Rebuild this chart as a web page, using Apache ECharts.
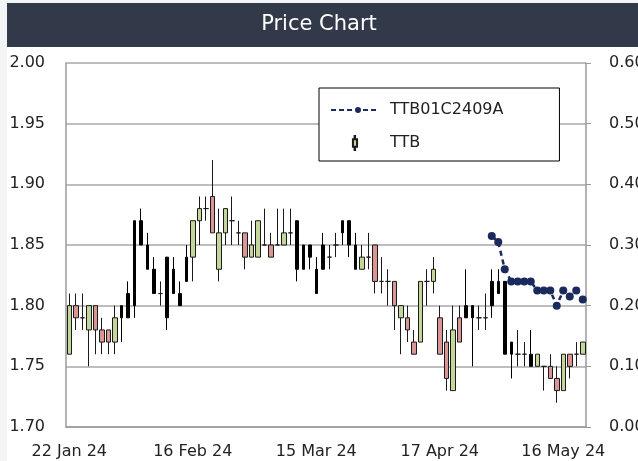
<!DOCTYPE html>
<html>
<head>
<meta charset="utf-8">
<title>Price Chart</title>
<script src="https://cdn.jsdelivr.net/npm/echarts@6/dist/echarts.min.js"></script>
<style>
    html, body { margin: 0; padding: 0; background: #f3f4f6; }
    #card { position: absolute; left: 7px; top: 3px; width: 631px; height: 458px; background: #fff; }
    #bar { position: absolute; left: 7px; top: 3px; width: 631px; height: 44px; background: #323a4a; }
    #chart { position: absolute; left: 0; top: 0; width: 638px; height: 461px; }
</style>
</head>
<body>
<div id="card"></div>
<div id="bar"></div>
<div id="chart"></div>
<script>
(function () {

    // 交易日
    var tradeDates = [
        '22 Jan 24', '23 Jan 24', '24 Jan 24', '25 Jan 24', '26 Jan 24',
        '29 Jan 24', '30 Jan 24', '31 Jan 24', '1 Feb 24', '2 Feb 24',
        '5 Feb 24', '6 Feb 24', '7 Feb 24', '8 Feb 24', '9 Feb 24',
        '12 Feb 24', '13 Feb 24', '14 Feb 24', '15 Feb 24', '16 Feb 24',
        '19 Feb 24', '20 Feb 24', '21 Feb 24', '22 Feb 24', '23 Feb 24',
        '27 Feb 24', '28 Feb 24', '29 Feb 24', '1 Mar 24',
        '4 Mar 24', '5 Mar 24', '6 Mar 24', '7 Mar 24', '8 Mar 24',
        '11 Mar 24', '12 Mar 24', '13 Mar 24', '14 Mar 24', '15 Mar 24',
        '18 Mar 24', '19 Mar 24', '20 Mar 24', '21 Mar 24', '22 Mar 24',
        '25 Mar 24', '26 Mar 24', '27 Mar 24', '28 Mar 24', '29 Mar 24',
        '1 Apr 24', '2 Apr 24', '3 Apr 24', '4 Apr 24', '5 Apr 24',
        '9 Apr 24', '10 Apr 24', '11 Apr 24',
        '17 Apr 24', '18 Apr 24', '19 Apr 24',
        '22 Apr 24', '23 Apr 24', '24 Apr 24', '25 Apr 24', '26 Apr 24',
        '29 Apr 24', '30 Apr 24',
        '2 May 24', '3 May 24',
        '7 May 24', '8 May 24', '9 May 24', '10 May 24',
        '13 May 24', '14 May 24', '15 May 24', '16 May 24',
        '17 May 24', '20 May 24', '21 May 24'
    ];

    // TTB: [open, close, low, high]
    var ttbOhlc = [
        [1.76, 1.80, 1.76, 1.81], [1.80, 1.79, 1.78, 1.81], [1.79, 1.79, 1.78, 1.81], [1.78, 1.80, 1.75, 1.80], [1.80, 1.78, 1.76, 1.80],
        [1.78, 1.77, 1.76, 1.79], [1.78, 1.77, 1.76, 1.78], [1.77, 1.79, 1.76, 1.80], [1.79, 1.80, 1.77, 1.80], [1.79, 1.81, 1.79, 1.82],
        [1.80, 1.87, 1.79, 1.87], [1.87, 1.85, 1.85, 1.88], [1.85, 1.83, 1.83, 1.86], [1.83, 1.81, 1.81, 1.84], [1.81, 1.81, 1.80, 1.82],
        [1.79, 1.84, 1.78, 1.84], [1.83, 1.81, 1.81, 1.84], [1.81, 1.80, 1.80, 1.82], [1.82, 1.84, 1.82, 1.85], [1.84, 1.87, 1.82, 1.87],
        [1.87, 1.88, 1.85, 1.89], [1.88, 1.88, 1.87, 1.89], [1.89, 1.86, 1.86, 1.92], [1.83, 1.86, 1.82, 1.88], [1.86, 1.88, 1.85, 1.88],
        [1.87, 1.87, 1.85, 1.89], [1.86, 1.86, 1.85, 1.87], [1.86, 1.84, 1.83, 1.86], [1.84, 1.85, 1.84, 1.87],
        [1.84, 1.87, 1.84, 1.87], [1.85, 1.85, 1.85, 1.88], [1.85, 1.84, 1.84, 1.86], [1.85, 1.85, 1.85, 1.88], [1.85, 1.86, 1.85, 1.88],
        [1.86, 1.86, 1.85, 1.88], [1.87, 1.83, 1.82, 1.87], [1.85, 1.83, 1.83, 1.85], [1.84, 1.85, 1.83, 1.85], [1.83, 1.81, 1.81, 1.84],
        [1.83, 1.85, 1.83, 1.86], [1.84, 1.84, 1.83, 1.85], [1.85, 1.85, 1.84, 1.86], [1.86, 1.87, 1.85, 1.87], [1.87, 1.85, 1.84, 1.87],
        [1.85, 1.83, 1.83, 1.86], [1.83, 1.84, 1.83, 1.85], [1.84, 1.84, 1.83, 1.86], [1.85, 1.82, 1.81, 1.85], [1.82, 1.82, 1.81, 1.84],
        [1.82, 1.82, 1.80, 1.83], [1.82, 1.80, 1.78, 1.82], [1.79, 1.80, 1.76, 1.80], [1.79, 1.78, 1.77, 1.80], [1.77, 1.76, 1.76, 1.78],
        [1.77, 1.82, 1.77, 1.82], [1.82, 1.82, 1.80, 1.83], [1.82, 1.83, 1.81, 1.84],
        [1.79, 1.76, 1.76, 1.80], [1.77, 1.74, 1.73, 1.78], [1.73, 1.78, 1.73, 1.80],
        [1.79, 1.77, 1.77, 1.80], [1.79, 1.80, 1.79, 1.83], [1.80, 1.79, 1.75, 1.80], [1.79, 1.79, 1.78, 1.80], [1.79, 1.79, 1.78, 1.81],
        [1.80, 1.82, 1.79, 1.83], [1.82, 1.81, 1.81, 1.83],
        [1.82, 1.76, 1.76, 1.82], [1.77, 1.76, 1.74, 1.77],
        [1.76, 1.76, 1.75, 1.78], [1.76, 1.76, 1.75, 1.77], [1.76, 1.75, 1.75, 1.78], [1.75, 1.76, 1.75, 1.76],
        [1.75, 1.75, 1.73, 1.75], [1.75, 1.74, 1.74, 1.76], [1.74, 1.73, 1.72, 1.75], [1.73, 1.76, 1.73, 1.76],
        [1.76, 1.75, 1.74, 1.76], [1.76, 1.76, 1.75, 1.77], [1.76, 1.77, 1.76, 1.77]
    ];

    // 图中画成黑色细柱的K线（下标）
    var darkCandles = [8, 9, 10, 11, 12, 13, 15, 16, 17, 18, 35, 36, 37, 38, 39, 42, 43, 44, 61, 62, 65, 66, 67, 68, 71];

    // TTB01C2409A 从 29 Apr 24 开始
    var warrantFrom = '29 Apr 24';
    var warrantPrices = [0.315, 0.305, 0.26, 0.24, 0.24, 0.24, 0.24, 0.225, 0.225, 0.225, 0.20, 0.225, 0.215, 0.225, 0.21];

    var leftTicks = { min: 1.70, max: 2.00, step: 0.05 };
    var rightTicks = { min: 0, max: 0.60, step: 0.10 };

    var font = '"DejaVu Sans", sans-serif';

    function eachItem(arr, fn) {
        for (var i = 0; i < arr.length; i++) fn(i, arr[i]);
    }

    // 拆成两组K线：彩色 / 黑色
    var colorData = [], darkData = [];
    eachItem(ttbOhlc, function (i, item) {
        if (darkCandles.indexOf(i) >= 0) {
            darkData.push(item);
            colorData.push(['-', '-', '-', '-']);
        } else {
            colorData.push(item);
            darkData.push(['-', '-', '-', '-']);
        }
    });

    var startIdx = tradeDates.indexOf(warrantFrom);
    var warrantData = tradeDates.map(function (d, i) {
        return (i < startIdx || i - startIdx >= warrantPrices.length) ? '-' : warrantPrices[i - startIdx];
    });

    // 图例图标：虚线带圆点 / 小K线
    var lineIcon = 'path://M0,6 L5,6 L5,8 L0,8 Z M8,6 L13,6 L13,8 L8,8 Z M16,6 L21,6 L21,8 L16,8 Z ' +
        'M24,7 A3,3 0 1 1 30,7 A3,3 0 1 1 24,7 Z ' +
        'M32,6 L37,6 L37,8 L32,8 Z M40,6 L45,6 L45,8 L40,8 Z M48,4 L48,4 Z M0,4 L0,4 Z';
    var candleIcon = 'path://M2,0 L2.6,0 L2.6,4 L5,4 L5,13 L2.6,13 L2.6,17 L2,17 L2,13 L0,13 L0,4 L2,4 Z';

    var chart = echarts.init(document.getElementById('chart'));

    chart.setOption({
        animation: false,
        title: {
            text: 'Price Chart',
            left: 'center',
            top: 14,
            padding: [0, 0, 0, 8],
            textStyle: { color: '#fff', fontSize: 21, fontWeight: 'normal', fontFamily: font }
        },
        legend: {
            orient: 'vertical',
            left: 319,
            top: 88,
            padding: [14, 56, 10, 12],
            itemGap: 17,
            itemWidth: 48,
            itemHeight: 14,
            backgroundColor: '#fff',
            borderColor: '#000',
            borderWidth: 1,
            borderRadius: 0,
            textStyle: { color: '#222', fontSize: 16, fontFamily: font, padding: [0, 0, 0, 6] },
            data: [
                { name: 'TTB01C2409A', icon: lineIcon },
                { name: 'TTB', icon: candleIcon }
            ]
        },
        grid: {
            left: 66,
            right: 52,
            top: 63,
            bottom: 34,
            containLabel: false,
            outerBoundsMode: 'none'
        },
        xAxis: {
            type: 'category',
            data: tradeDates,
            boundaryGap: true,
            axisLine: { lineStyle: { color: '#9a9a9a', width: 1.5 } },
            axisTick: { show: false },
            axisLabel: {
                interval: 18,
                margin: 17,
                color: '#222',
                fontSize: 16,
                fontFamily: font
            },
            splitLine: { show: false }
        },
        yAxis: [
            {
                type: 'value',
                position: 'left',
                min: leftTicks.min,
                max: leftTicks.max,
                interval: leftTicks.step,
                axisLine: { show: true, lineStyle: { color: '#9a9a9a', width: 1.5 } },
                axisTick: { show: false },
                axisLabel: {
                    margin: 21,
                    color: '#222',
                    fontSize: 16,
                    fontFamily: font,
                    formatter: function (v) { return v.toFixed(2); }
                },
                splitLine: { lineStyle: { color: '#a8a8a8', width: 1.5 } }
            },
            {
                type: 'value',
                position: 'right',
                min: rightTicks.min,
                max: rightTicks.max,
                interval: rightTicks.step,
                axisLine: { show: true, lineStyle: { color: '#9a9a9a', width: 1.5 } },
                axisTick: { show: true, length: 5, lineStyle: { color: '#9a9a9a' } },
                axisLabel: {
                    margin: 23,
                    color: '#222',
                    fontSize: 16,
                    fontFamily: font,
                    formatter: function (v) { return v.toFixed(2); }
                },
                splitLine: { show: false }
            }
        ],
        series: [
            {
                name: 'TTB',
                type: 'candlestick',
                yAxisIndex: 0,
                barWidth: 5,
                data: colorData,
                itemStyle: {
                    color: '#c4d79b',
                    color0: '#d99694',
                    borderColor: '#1a1a1a',
                    borderColor0: '#1a1a1a',
                    borderWidth: 1
                }
            },
            {
                name: 'TTB',
                type: 'candlestick',
                yAxisIndex: 0,
                barWidth: 3,
                data: darkData,
                itemStyle: {
                    color: '#000',
                    color0: '#000',
                    borderColor: '#000',
                    borderColor0: '#000',
                    borderWidth: 1
                }
            },
            {
                name: 'TTB01C2409A',
                type: 'line',
                yAxisIndex: 1,
                data: warrantData,
                symbol: 'circle',
                symbolSize: 8,
                showSymbol: true,
                showAllSymbol: true,
                itemStyle: { color: '#1b2a5c' },
                lineStyle: { color: '#1b2a5c', width: 2.5, type: [5, 4] },
                z: 5
            }
        ]
    });
})();
</script>
</body>
</html>
